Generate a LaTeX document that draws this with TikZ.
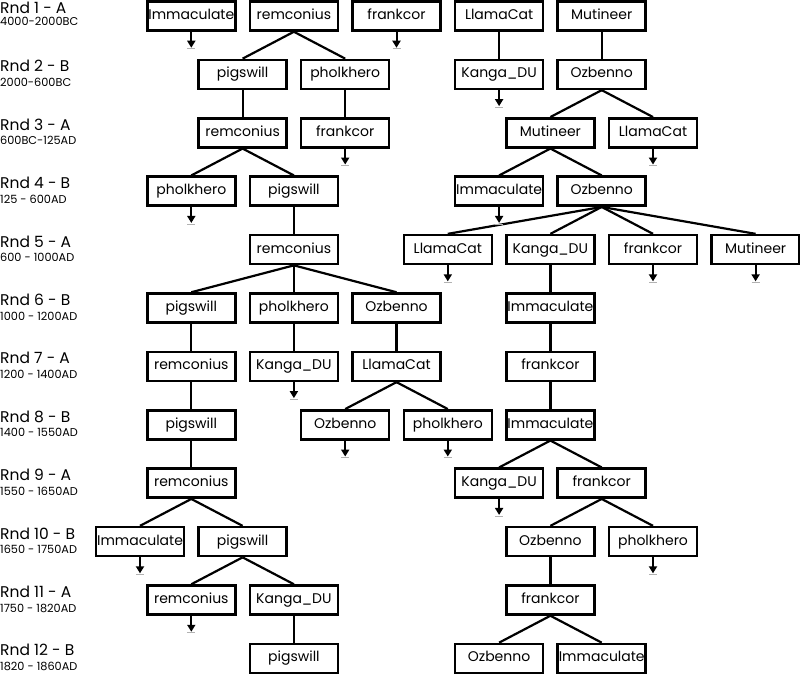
\documentclass[tikz,border=0pt]{standalone}
\usepackage{fontspec}
\setmainfont{Poppins}
\usetikzlibrary{arrows.meta,calc}
\newcommand\Nbox[4]{\node[box] (#1) at ({140+51.3*#2},{16+58.4*(#3-1)}) {#4};}
\newcommand\Term[1]{\coordinate (#1-e) at ($(#1.south)+(0,16)$);
  \draw[outarr] (#1.south) -- (#1-e);
  \draw[tick] ($(#1-e)+(-4,1)$) -- ($(#1-e)+(4,1)$);}
\newcommand\Rlab[4]{\node[lab1] (L#1a) at (0,{16+58.4*(#1-1)-2.5}) {#2};
  \node[lab2] (L#1b) at (0,{16+58.4*(#1-1)+#4}) {#3};}
\begin{document}
\begin{tikzpicture}[x=1pt,y=-1pt,
  box/.style={draw, line width=2.5pt, minimum width=88pt, minimum height=29pt, inner sep=0pt,
    text height=10pt, text depth=3pt, font=\fontsize{14}{14}\selectfont},
  edge/.style={line width=2.2pt},
  outarr/.style={line width=2pt, -{Triangle[width=8pt,length=7pt]}},
  tick/.style={gray!60, line width=0.7pt},
  lab1/.style={anchor=base west, inner sep=0pt, font=\fontsize{15.5}{15.5}\selectfont},
  lab2/.style={anchor=base west, inner sep=0pt, font=\fontsize{11.3}{11.3}\selectfont}]
\useasboundingbox (0,0) rectangle (800,674);
\fill[white] (0,0) rectangle (800,674);
% round labels
\Rlab{1}{Rnd 1 - A}{4000-2000BC}{10}
\Rlab{2}{Rnd 2 - B}{2000-600BC}{12}
\Rlab{3}{Rnd 3 - A}{600BC-125AD}{12}
\Rlab{4}{Rnd 4 - B}{125 - 600AD}{12}
\Rlab{5}{Rnd 5 - A}{600 - 1000AD}{12}
\Rlab{6}{Rnd 6 - B}{1000 - 1200AD}{12}
\Rlab{7}{Rnd 7 - A}{1200 - 1400AD}{12}
\Rlab{8}{Rnd 8 - B}{1400 - 1550AD}{12}
\Rlab{9}{Rnd 9 - A}{1550 - 1650AD}{12}
\Rlab{10}{Rnd 10 - B}{1650 - 1750AD}{12}
\Rlab{11}{Rnd 11 - A}{1750 - 1820AD}{12}
\Rlab{12}{Rnd 12 - B}{1820 - 1860AD}{12}
% row 1
\Nbox{a1}{1}{1}{Immaculate}
\Nbox{b1}{3}{1}{remconius}
\Nbox{c1}{5}{1}{frankcor}
\Nbox{d1}{7}{1}{LlamaCat}
\Nbox{e1}{9}{1}{Mutineer}
% row 2
\Nbox{a2}{2}{2}{pigswill}
\Nbox{b2}{4}{2}{pholkhero}
\Nbox{c2}{7}{2}{Kanga\_DU}
\Nbox{d2}{9}{2}{Ozbenno}
% row 3
\Nbox{a3}{2}{3}{remconius}
\Nbox{b3}{4}{3}{frankcor}
\Nbox{c3}{8}{3}{Mutineer}
\Nbox{d3}{10}{3}{LlamaCat}
% row 4
\Nbox{a4}{1}{4}{pholkhero}
\Nbox{b4}{3}{4}{pigswill}
\Nbox{c4}{7}{4}{Immaculate}
\Nbox{d4}{9}{4}{Ozbenno}
% row 5
\Nbox{a5}{3}{5}{remconius}
\Nbox{b5}{6}{5}{LlamaCat}
\Nbox{c5}{8}{5}{Kanga\_DU}
\Nbox{d5}{10}{5}{frankcor}
\Nbox{e5}{12}{5}{Mutineer}
% row 6
\Nbox{a6}{1}{6}{pigswill}
\Nbox{b6}{3}{6}{pholkhero}
\Nbox{c6}{5}{6}{Ozbenno}
\Nbox{d6}{8}{6}{Immaculate}
% row 7
\Nbox{a7}{1}{7}{remconius}
\Nbox{b7}{3}{7}{Kanga\_DU}
\Nbox{c7}{5}{7}{LlamaCat}
\Nbox{d7}{8}{7}{frankcor}
% row 8
\Nbox{a8}{1}{8}{pigswill}
\Nbox{b8}{4}{8}{Ozbenno}
\Nbox{c8}{6}{8}{pholkhero}
\Nbox{d8}{8}{8}{Immaculate}
% row 9
\Nbox{a9}{1}{9}{remconius}
\Nbox{b9}{7}{9}{Kanga\_DU}
\Nbox{c9}{9}{9}{frankcor}
% row 10
\Nbox{a10}{0}{10}{Immaculate}
\Nbox{b10}{2}{10}{pigswill}
\Nbox{c10}{8}{10}{Ozbenno}
\Nbox{d10}{10}{10}{pholkhero}
% row 11
\Nbox{a11}{1}{11}{remconius}
\Nbox{b11}{3}{11}{Kanga\_DU}
\Nbox{c11}{8}{11}{frankcor}
% row 12
\Nbox{a12}{3}{12}{pigswill}
\Nbox{b12}{7}{12}{Ozbenno}
\Nbox{c12}{9}{12}{Immaculate}
% edges
\foreach \p/\c in {b1/a2,b1/b2,d1/c2,e1/d2,
  a2/a3,b2/b3,d2/c3,d2/d3,
  a3/a4,a3/b4,c3/c4,c3/d4,
  b4/a5,d4/b5,d4/c5,d4/d5,d4/e5,
  a5/a6,a5/b6,a5/c6,c5/d6,
  a6/a7,b6/b7,c6/c7,d6/d7,
  a7/a8,c7/b8,c7/c8,d7/d8,
  a8/a9,d8/b9,d8/c9,
  a9/a10,a9/b10,c9/c10,c9/d10,
  b10/a11,b10/b11,c10/c11,
  b11/a12,c11/b12,c11/c12}
  {\draw[edge] (\p.south) -- (\c.north);}
% terminal arrows
\Term{a1}\Term{c1}
\Term{c2}
\Term{b3}\Term{d3}
\Term{a4}\Term{c4}
\Term{b5}\Term{d5}\Term{e5}
\Term{b7}
\Term{b8}\Term{c8}
\Term{b9}
\Term{a10}\Term{d10}
\Term{a11}
\end{tikzpicture}
\end{document}
